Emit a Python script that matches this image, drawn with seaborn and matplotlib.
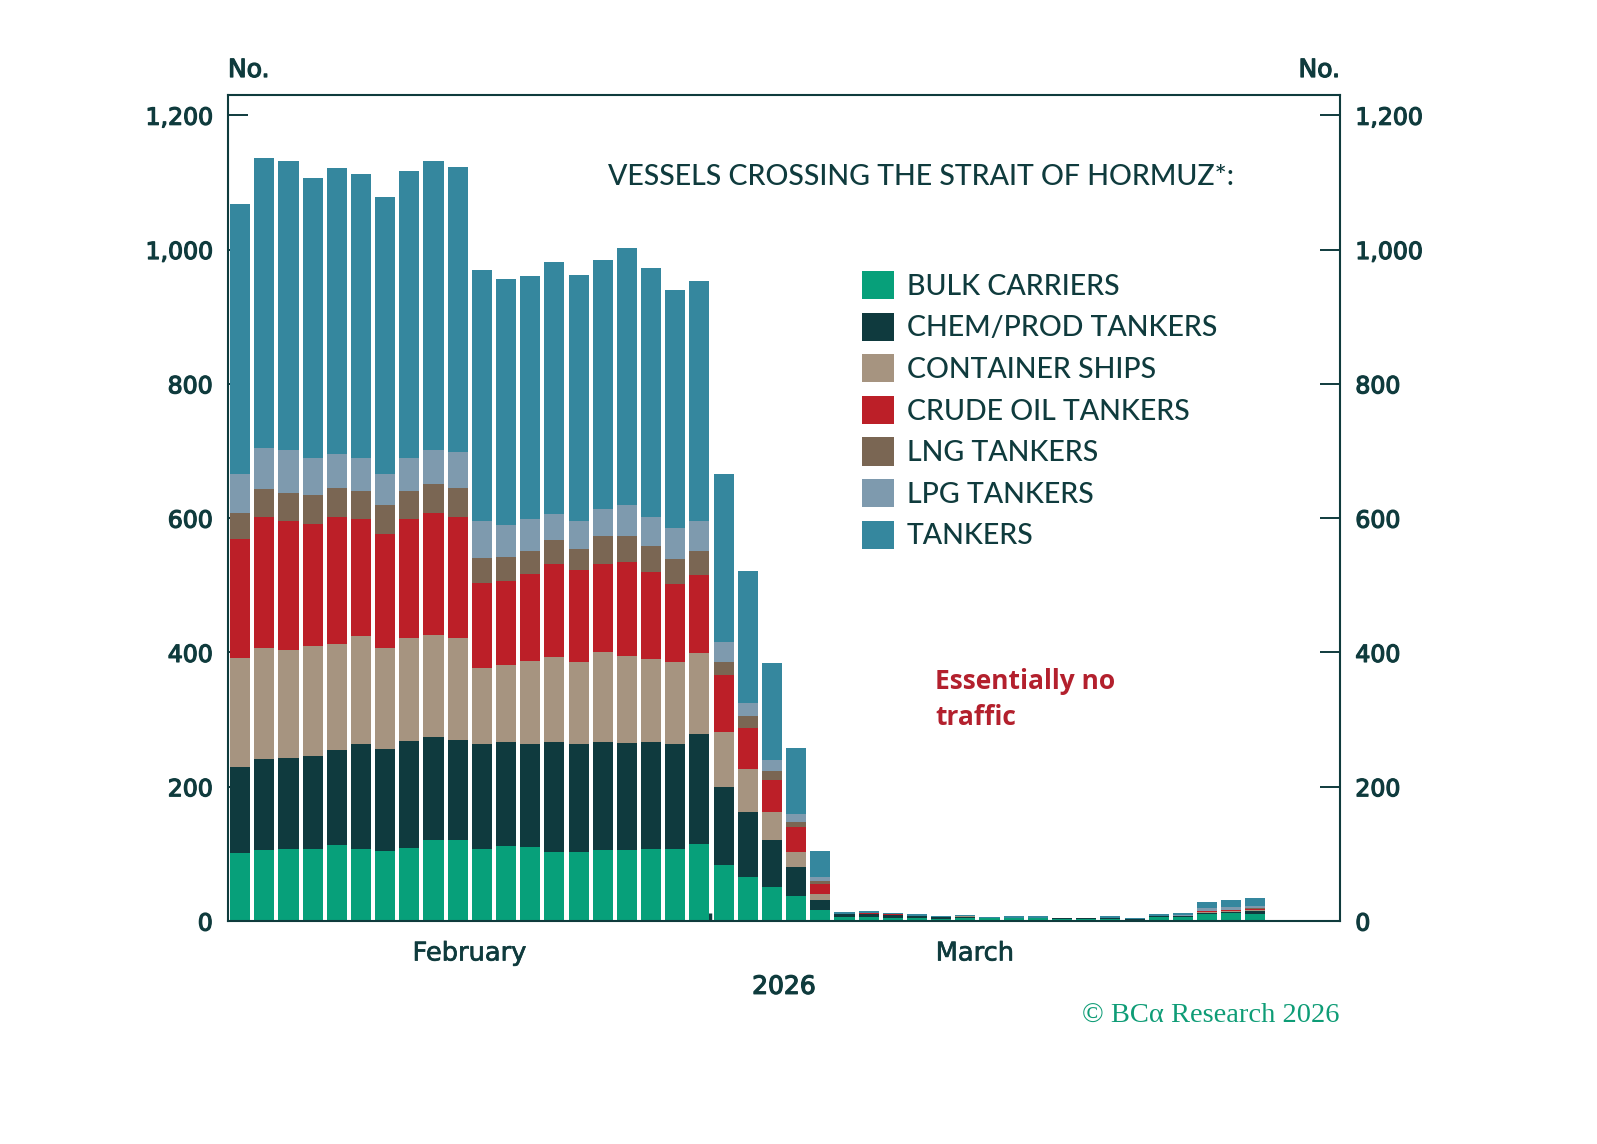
import pandas as pd
import seaborn as sns
import matplotlib.pyplot as plt
import matplotlib.patheffects as pe
from matplotlib.patches import Patch

# counts per bar slot (bottom -> top of the stack)
slots = list(range(46))
bulk = [102, 106, 108, 108, 113, 108, 105, 109, 121, 121,
        107, 111, 110, 103, 103, 106, 106, 107, 107, 115,
        83, 66, 51, 37, 16,
        6, 6, 5, 4, 3, 4, 4, 5, 5, 3, 3, 3, 2, 6, 6,
        11, 12, 10, 0, 0, 0]
chem = [127, 135, 135, 138, 141, 155, 151, 159, 153, 148,
        157, 156, 153, 164, 160, 160, 159, 160, 156, 163,
        117, 96, 70, 44, 16,
        4, 4, 4, 4, 3, 2, 0, 0, 0, 1, 1, 2, 1, 1, 2,
        1, 2, 5, 0, 0, 2]
container = [162, 166, 160, 164, 159, 161, 151, 153, 152, 153,
             113, 114, 124, 126, 123, 135, 129, 123, 123, 121,
             81, 64, 42, 22, 8,
             0, 1, 0, 0, 0, 1, 0, 0, 0, 0, 0, 0, 0, 0, 0,
             1, 1, 1, 0, 0, 0]
crude = [178, 195, 192, 181, 188, 174, 169, 177, 181, 179,
         127, 126, 130, 139, 137, 131, 141, 130, 116, 117,
         85, 62, 47, 37, 15,
         0, 1, 1, 0, 0, 0, 0, 0, 0, 0, 0, 0, 0, 0, 0,
         2, 2, 2, 0, 0, 0]
lng = [38, 41, 42, 44, 44, 42, 43, 42, 44, 44,
       37, 35, 34, 36, 31, 41, 38, 39, 37, 35,
       20, 18, 13, 8, 4,
       0, 0, 0, 0, 0, 0, 0, 0, 0, 0, 0, 0, 0, 0, 0,
       0, 0, 1, 0, 0, 0]
lpg = [59, 61, 64, 55, 51, 50, 47, 50, 51, 54,
       54, 48, 47, 38, 41, 40, 46, 42, 46, 45,
       29, 19, 17, 11, 6,
       0, 0, 0, 0, 0, 0, 0, 0, 0, 0, 0, 0, 0, 0, 1,
       4, 4, 4, 0, 0, 0]
tankers = [402, 433, 431, 417, 425, 422, 412, 427, 430, 424,
           374, 366, 363, 376, 367, 372, 383, 371, 355, 357,
           251, 196, 144, 99, 40,
           3, 3, 2, 2, 2, 2, 2, 3, 3, 1, 1, 3, 2, 3, 3,
           9, 10, 11, 0, 0, 0]

types = ["BULK CARRIERS", "CHEM/PROD TANKERS", "CONTAINER SHIPS",
         "CRUDE OIL TANKERS", "LNG TANKERS", "LPG TANKERS", "TANKERS"]
colors = ["#07A07A", "#0F3A3E", "#A69480", "#BC1F28", "#7A6653", "#7E9AAE", "#35879E"]

month_labels = ["February", "March"]
month_pos = [9.5, 30.4]
month_start = [19.45]

dark = "#0F3B3D"
wide = ['DejaVu Sans']
# a thin outline in the same colour makes DejaVu look closer to the semibold original
thick = [pe.withStroke(linewidth=0.9, foreground=dark)]
thin = [pe.withStroke(linewidth=0.5, foreground=dark)]

df = pd.DataFrame({"slot": slots, types[0]: bulk, types[1]: chem, types[2]: container,
                   types[3]: crude, types[4]: lng, types[5]: lpg, types[6]: tankers})
long = df.melt(id_vars="slot", var_name="type", value_name="count")

sns.set_style("white")
plt.rcParams['font.family'] = ['Lato', 'DejaVu Sans']

fig = plt.figure(figsize=(15.97, 11.44), dpi=100)
ax = fig.add_axes([0.1428, 0.1949, 0.6963, 0.722])

# seaborn stacks the last hue level at the bottom
sns.histplot(data=long, x="slot", weights="count", hue="type",
             hue_order=types[::-1], palette=colors[::-1],
             multiple="stack", discrete=True, shrink=0.83,
             alpha=1, linewidth=0, legend=False, ax=ax)

ax.set_xlim(-0.5, 45.5)
ax.set_ylim(0, 1230)

yt = list(range(0, 1201, 200))
ax.set_yticks(yt)
ax.set_yticklabels([f"{v:,}" for v in yt])
ax.tick_params(axis='y', direction='in', length=14.5, width=1.4, color=dark,
               left=True, right=True, labelleft=True, labelright=True,
               labelsize=17, labelcolor=dark, pad=11)
for t in ax.yaxis.get_major_ticks():
    for lab in (t.label1, t.label2):
        lab.set_family(wide)
        lab.set_path_effects(thick)

ax.set_xticks(month_pos)
ax.set_xticklabels(month_labels, family=wide)
ax.set_xticks(month_start, minor=True)
ax.tick_params(axis='x', which='major', length=0, labelsize=18.5, labelcolor=dark, pad=14)
ax.tick_params(axis='x', which='minor', direction='in', length=6, width=2.5, color=dark, bottom=True)
for lab in ax.get_xticklabels():
    lab.set_path_effects(thin)

ax.set_xlabel("2026", fontsize=18, color=dark, family=wide, labelpad=6,
              path_effects=thick)
ax.set_ylabel("")

for s in ax.spines.values():
    s.set_visible(True)
    s.set_color(dark)
    s.set_linewidth(1.5)

ax.text(0.623, 0.9007, "VESSELS CROSSING THE STRAIT OF HORMUZ*:", transform=ax.transAxes,
        ha='center', va='center', fontsize=20.5, color=dark, fontweight=500)

handles = [Patch(facecolor=c, edgecolor='none') for c in colors]
ax.legend(handles, types, loc='upper left', bbox_to_anchor=(0.570, 0.787),
          frameon=False, handlelength=1.12, handleheight=1.15,
          labelspacing=0.45, handletextpad=0.45, borderpad=0, borderaxespad=0,
          labelcolor=dark, prop={'weight': 500, 'size': 20.5})

red = "#B3202D"
ax.text(0.636, 0.2906, "Essentially no", transform=ax.transAxes, ha='left', va='center',
        fontsize=19, color=red, fontweight='bold', family=['Open Sans', 'DejaVu Sans'])
ax.text(0.636, 0.2470, "traffic", transform=ax.transAxes, ha='left', va='center',
        fontsize=19, color=red, fontweight='bold', family=['Open Sans', 'DejaVu Sans'])

fig.text(228 / 1597, 1 - 70 / 1144, "No.", ha='left', va='center',
         fontsize=18, color=dark, family=wide, path_effects=thick)
fig.text(1340 / 1597, 1 - 70 / 1144, "No.", ha='right', va='center',
         fontsize=18, color=dark, family=wide, path_effects=thick)
fig.text(1340 / 1597, 1 - 1015 / 1144, "© BCα Research 2026", ha='right', va='center',
         fontsize=20.5, color="#0E9C76", family=['Liberation Serif', 'DejaVu Serif'])

fig.savefig("out.png", dpi=100)
